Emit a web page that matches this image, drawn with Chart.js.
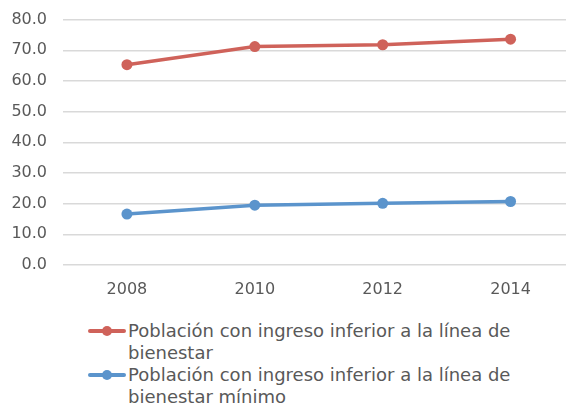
<!DOCTYPE html>
<html>
<head>
<meta charset="utf-8">
<script src="https://cdn.jsdelivr.net/npm/chart.js@4/dist/chart.umd.min.js"></script>
<style>
  html, body { margin: 0; padding: 0; background: #fff; overflow: hidden; }
  body { width: 566px; height: 404px; position: relative; }
  #wrap { position: absolute; left: 0; top: -6px; width: 580px; height: 306px; }
  #legend { position: absolute; left: 88px; top: 320px; font-family: 'DejaVu Sans', sans-serif; font-size: 18px; color: #595959; }
  .item { display: flex; align-items: flex-start; line-height: 22px; }
  .mark { position: relative; width: 40px; height: 22px; flex: none; }
  .mark .ln { position: absolute; left: 0; top: 9px; width: 38px; height: 4px; border-radius: 2px; }
  .mark .dot { position: absolute; left: 14px; top: 6px; width: 10px; height: 10px; border-radius: 50%; }
  .txt { width: 400px; }
</style>
</head>
<body>
<div id="wrap"><canvas id="line-chart"></canvas></div>
<div id="legend"></div>
<script>
  const years = ['2008', '2010', '2012', '2014'];
  const bienestar = [65.3, 71.2, 71.8, 73.6];
  const bienestarMinimo = [16.6, 19.5, 20.1, 20.7];
  const seriesNames = [
    'Población con ingreso inferior a la línea de bienestar',
    'Población con ingreso inferior a la línea de bienestar mínimo',
  ];
  const seriesColors = ['#cf625a', '#5b94cc'];

  const lineChartData = {
    labels: years,
    datasets: [
      {
        label: seriesNames[0],
        data: bienestar,
        borderColor: seriesColors[0],
        backgroundColor: seriesColors[0],
        borderWidth: 3.5,
        pointRadius: 5.5,
        pointBorderWidth: 0,
        pointHoverRadius: 5.5,
      },
      {
        label: seriesNames[1],
        data: bienestarMinimo,
        borderColor: seriesColors[1],
        backgroundColor: seriesColors[1],
        borderWidth: 3.5,
        pointRadius: 5.5,
        pointBorderWidth: 0,
        pointHoverRadius: 5.5,
      },
    ],
  };

  const tickFont = { family: "'DejaVu Sans', sans-serif", size: 16 };

  const lineChartOption = {
    responsive: true,
    maintainAspectRatio: false,
    animation: false,
    layout: { padding: { top: 13, right: 0, left: 0, bottom: 0 } },
    plugins: {
      legend: { display: false },
      tooltip: { enabled: false },
    },
    scales: {
      x: {
        offset: true,
        grid: { display: false },
        border: { display: false },
        ticks: { color: '#595959', font: tickFont, padding: 7 },
        afterFit: (scale) => { scale.height = 35; },
      },
      y: {
        min: 0,
        max: 80,
        grid: { color: '#d9d9d9', lineWidth: 1.5, drawTicks: false },
        border: { display: false },
        ticks: {
          stepSize: 10,
          color: '#595959',
          font: tickFont,
          padding: 16,
          callback: (value) => value.toFixed(1),
        },
        afterFit: (scale) => { scale.width = 63; },
      },
    },
  };

  const lineChartContext = document.getElementById('line-chart').getContext('2d');
  const chart = new Chart(lineChartContext, {
    type: 'line',
    data: lineChartData,
    options: lineChartOption,
  });

  // HTML legend built from the datasets
  const legend = document.getElementById('legend');
  chart.data.datasets.forEach((ds) => {
    const item = document.createElement('div');
    item.className = 'item';
    item.innerHTML =
      '<span class="mark"><span class="ln" style="background:' + ds.borderColor + '"></span>' +
      '<span class="dot" style="background:' + ds.borderColor + '"></span></span>' +
      '<span class="txt"></span>';
    item.querySelector('.txt').textContent = ds.label;
    legend.appendChild(item);
  });
</script>
</body>
</html>
